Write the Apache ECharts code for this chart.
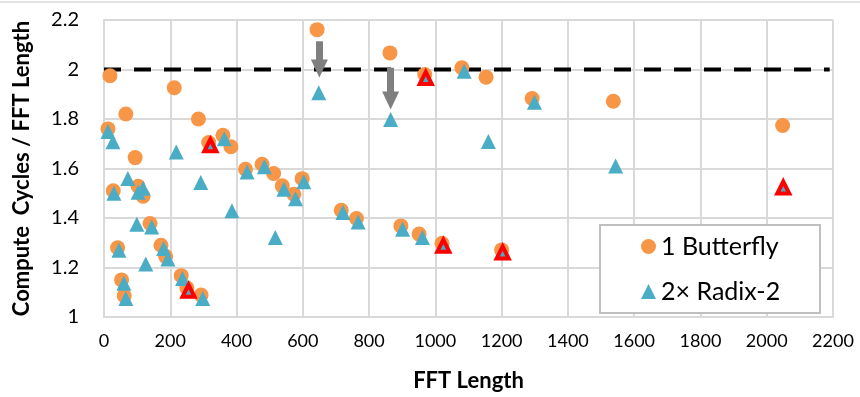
<!DOCTYPE html>
<html>
<head>
<meta charset="utf-8">
<script src="https://cdn.jsdelivr.net/npm/echarts@6/dist/echarts.min.js"></script>
<style>html,body{margin:0;padding:0;background:#fff}#c{width:860px;height:397px}</style>
</head>
<body>
<div id="c"></div>
<script>
// FFT length vs compute cycles / FFT length
const butterflyPoints = [
  [12,1.76],[18,1.975],[28,1.51],[41,1.28],[53,1.15],[61,1.086],[66,1.82],[94,1.644],
  [103,1.528],[118,1.488],[139,1.378],[172,1.29],[186,1.245],[212,1.926],[233,1.167],
  [250,1.118],[285,1.80],[293,1.089],[316,1.705],[359,1.734],[383,1.688],[427,1.597],
  [477,1.617],[512,1.58],[538,1.53],[573,1.496],[598,1.559],[643,2.161],[716,1.431],
  [762,1.398],[863,2.067],[896,1.368],[951,1.335],[968,1.98],[1020,1.298],[1080,2.007],
  [1153,1.969],[1200,1.271],[1292,1.883],[1537,1.872],[2048,1.774]
];
const radixPoints = [
  [12,1.75],[27,1.708],[30,1.50],[45,1.27],[60,1.136],[66,1.075],[72,1.56],[99,1.375],
  [103,1.504],[118,1.52],[126,1.214],[144,1.364],[180,1.277],[193,1.234],[218,1.667],
  [237,1.156],[292,1.543],[298,1.075],[363,1.72],[386,1.429],[432,1.586],[484,1.607],
  [517,1.321],[543,1.516],[578,1.478],[603,1.546],[648,1.906],[721,1.422],[767,1.384],
  [865,1.798],[901,1.355],[961,1.321],[1087,1.993],[1160,1.709],[1299,1.868],[1544,1.61]
];
const highlightedRadix = [
  [255,1.106],[321,1.694],[971,1.966],[1024,1.288],[1203,1.261],[2050,1.523]
];
const referenceLine = [[0,2],[2190,2]];
const arrows = [
  [[650,2.114],[650,2.004]],
  [[865,2.007],[865,1.875]]
];
const xTickLabels = ['0','200','400','600','800','1000','1200','1400','1600','1800','2000','2200'];
const yTickLabels = ['1','1.2','1.4','1.6','1.8','2','2.2'];
const seriesNames = ['1 Butterfly','2\u00d7 Radix-2'];

const ORANGE = '#F79646', BLUE = '#4BACC6', RED = '#FF0000', GRID = '#d9d9d9';
const FONT = 'Lato';

const chart = echarts.init(document.getElementById('c'), null, {renderer:'canvas'});
chart.setOption({
  animation: false,
  backgroundColor: '#fff',
  textStyle: {fontFamily: FONT},
  grid: {left: 104, right: 27, top: 20, bottom: 79, containLabel: false},
  graphic: [
    {type:'line', shape:{x1:0,y1:2,x2:860,y2:2}, style:{stroke:GRID, lineWidth:1.5}},
    {type:'rect', shape:{x:600,y:225,width:220,height:88}, style:{fill:'#fff', stroke:'#bfbfbf', lineWidth:2}, z:10}
  ],
  legend: {
    orient:'vertical', left:641, top:234, padding:0, itemGap:20,
    itemWidth:15, itemHeight:15, z:20,
    textStyle:{fontFamily:FONT, fontSize:25, color:'#000', lineHeight:25},
    data:[{name:seriesNames[0], icon:'circle'},{name:seriesNames[1], icon:'triangle'}]
  },
  xAxis: {
    type:'value', min:0, max:2200, interval:200,
    name:'FFT Length', nameLocation:'middle', nameGap:53,
    nameTextStyle:{fontFamily:FONT, fontWeight:'bold', fontSize:22, color:'#000'},
    axisLine:{show:true, lineStyle:{color:GRID, width:2}},
    axisTick:{show:false},
    axisLabel:{margin:15, fontSize:18, color:'#000', fontFamily:FONT,
      formatter:(v)=>xTickLabels[Math.round(v/200)]},
    splitLine:{show:true, lineStyle:{color:GRID, width:2}}
  },
  yAxis: {
    type:'value', min:1, max:2.2, interval:0.2,
    name:'Compute  Cycles / FFT Length', nameLocation:'middle', nameGap:71,
    nameTextStyle:{fontFamily:FONT, fontWeight:'bold', fontSize:22, color:'#000'},
    axisLine:{show:true, lineStyle:{color:GRID, width:2}},
    axisTick:{show:false},
    axisLabel:{margin:25, fontSize:20, color:'#000', fontFamily:FONT,
      formatter:(v)=>yTickLabels[Math.round((v-1)/0.2)]},
    splitLine:{show:true, lineStyle:{color:GRID, width:2}}
  },
  series: [
    {
      name:'ref', type:'line', data:referenceLine, symbol:'none', silent:true, z:3,
      lineStyle:{color:'#000', width:4, type:[17,13]}
    },
    {
      name:seriesNames[0], type:'scatter', data:butterflyPoints, symbol:'circle', symbolSize:15, z:4,
      itemStyle:{color:ORANGE, opacity:1}
    },
    {
      name:seriesNames[1], type:'scatter', data:radixPoints, symbol:'triangle', symbolSize:15, z:5,
      itemStyle:{color:BLUE, opacity:1}
    },
    {
      name:'highlight', type:'scatter', data:highlightedRadix, symbol:'triangle', symbolSize:12, z:6,
      itemStyle:{color:BLUE, borderColor:RED, borderWidth:4, opacity:1}
    },
    {
      name:'arrows', type:'line', data:[], z:7, silent:true,
      markLine:{
        silent:true, animation:false,
        symbol:['none','triangle'], symbolSize:[17,18],
        label:{show:false},
        lineStyle:{color:'#7f7f7f', width:7, type:'solid', opacity:1, cap:'butt'},
        emphasis:{disabled:true},
        data: arrows.map(a=>[{coord:a[0]},{coord:a[1]}])
      }
    }
  ]
});
</script>
</body>
</html>
